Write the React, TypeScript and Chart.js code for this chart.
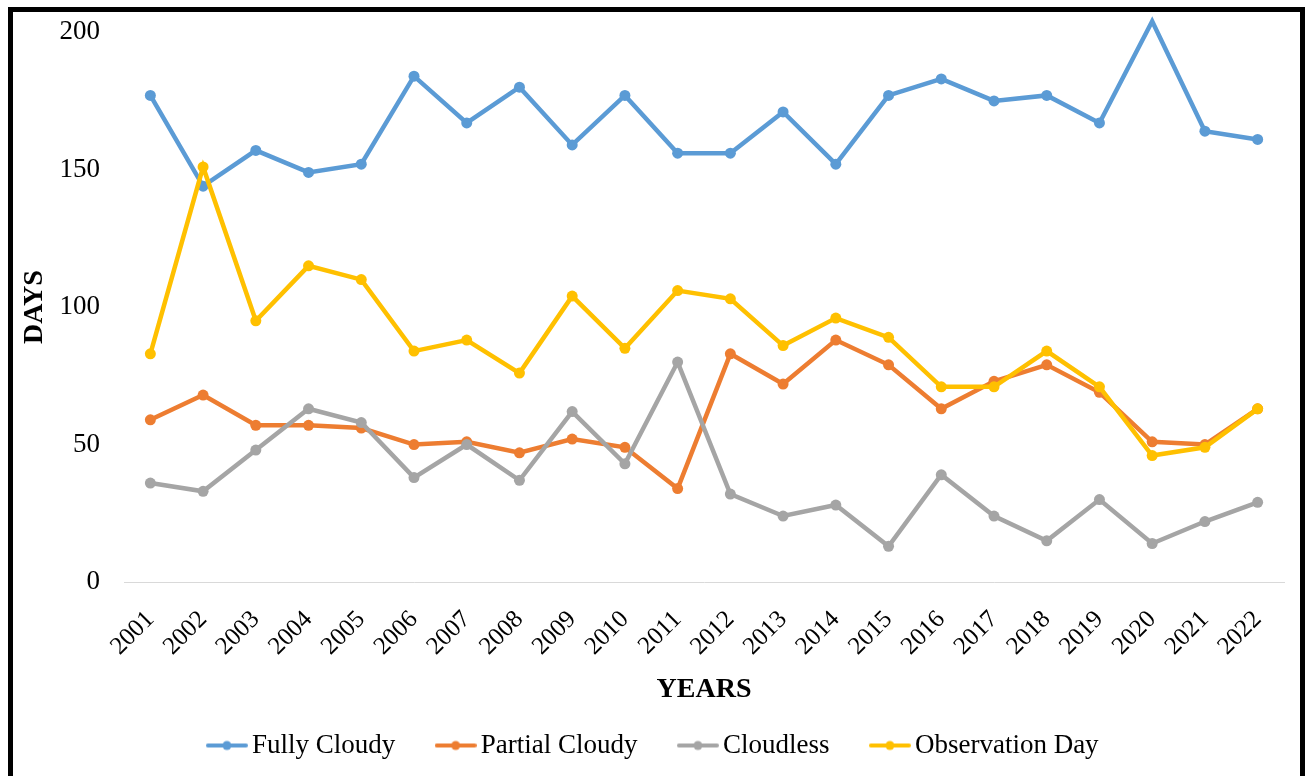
import React, { useEffect, useRef } from "react";
import { Chart, registerables } from "chart.js";

Chart.register(...registerables);

const years = ["2001","2002","2003","2004","2005","2006","2007","2008","2009","2010","2011","2012","2013","2014","2015","2016","2017","2018","2019","2020","2021","2022"];
const fullyCloudy = [177,144,157,149,152,184,167,180,159,177,156,156,171,152,177,183,175,177,167,204,164,161];
const partialCloudy = [59,68,57,57,56,50,51,47,52,49,34,83,72,88,79,63,73,79,69,51,50,63];
const cloudless = [36,33,48,63,58,38,50,37,62,43,80,32,24,28,13,39,24,15,30,14,22,29];
const observationDay = [83,151,95,115,110,84,88,76,104,85,106,103,86,96,89,71,71,84,71,46,49,63];
const yTicks = [0, 50, 100, 150, 200];

const FONT = "'Liberation Serif', 'Times New Roman', serif";

function makeMarker(color: string): HTMLCanvasElement {
  const c = document.createElement("canvas");
  c.width = 42;
  c.height = 12;
  const ctx = c.getContext("2d")!;
  ctx.strokeStyle = color;
  ctx.lineWidth = 4;
  ctx.lineCap = "round";
  ctx.beginPath();
  ctx.moveTo(2, 6);
  ctx.lineTo(40, 6);
  ctx.stroke();
  ctx.fillStyle = color;
  ctx.beginPath();
  ctx.arc(21, 6, 4.5, 0, Math.PI * 2);
  ctx.fill();
  return c;
}

export default function App() {
  const ref = useRef<HTMLCanvasElement>(null);
  useEffect(() => {
    if (!ref.current) return;
    const series = [
      { label: "Fully Cloudy", data: fullyCloudy, color: "#5B9BD5", order: 4 },
      { label: "Partial Cloudy", data: partialCloudy, color: "#ED7D31", order: 3 },
      { label: "Cloudless", data: cloudless, color: "#A5A5A5", order: 2 },
      { label: "Observation Day", data: observationDay, color: "#FFC000", order: 1 },
    ];
    const chart = new Chart(ref.current, {
      type: "line",
      data: {
        labels: years,
        datasets: series.map((s) => ({
          label: s.label,
          data: s.data,
          borderColor: s.color,
          backgroundColor: s.color,
          pointBackgroundColor: s.color,
          pointBorderColor: s.color,
          pointRadius: 5.5,
          pointBorderWidth: 0,
          borderWidth: 4.5,
          tension: 0,
          clip: false,
          order: s.order,
          pointStyle: "circle",
          marker: makeMarker(s.color),
        })) as any,
      },
      options: {
        responsive: false,
        animation: false,
        layout: { padding: { top: 28, right: 22, bottom: 7, left: 30 } },
        plugins: {
          tooltip: { enabled: false },
          legend: {
            position: "bottom",
            labels: {
              usePointStyle: true,
              pointStyleWidth: 23,
              padding: 49,
              color: "#000",
              font: { family: FONT, size: 27 },
              sort: (a: any, b: any) => a.datasetIndex - b.datasetIndex,
              generateLabels: (ch: any) =>
                ch.data.datasets.map((ds: any, i: number) => ({
                  text: ds.label,
                  fillStyle: ds.borderColor,
                  strokeStyle: ds.borderColor,
                  lineWidth: 0,
                  pointStyle: ds.marker,
                  hidden: false,
                  datasetIndex: i,
                  fontColor: "#000",
                })),
            },
          },
        },
        scales: {
          x: {
            type: "category",
            offset: true,
            grid: { display: false },
            border: { display: true, color: "#d9d9d9", width: 1 },
            ticks: {
              minRotation: 45,
              maxRotation: 45,
              autoSkip: false,
              color: "#000",
              padding: 15,
              font: { family: FONT, size: 25 },
            },
            title: {
              display: true,
              text: "YEARS",
              color: "#000",
              font: { family: FONT, size: 28, weight: "bold" },
              padding: { top: 0, bottom: -24 },
            },
            afterFit: (scale: any) => {
              scale.height = 101;
            },
          },
          y: {
            min: 0,
            max: 200,
            grid: { display: false },
            border: { display: false },
            afterBuildTicks: (scale: any) => {
              scale.ticks = yTicks.map((v) => ({ value: v }));
            },
            ticks: {
              color: "#000",
              padding: 16,
              font: { family: FONT, size: 27 },
            },
            title: {
              display: true,
              text: "DAYS",
              color: "#000",
              font: { family: FONT, size: 28, weight: "bold" },
              padding: { top: -12, bottom: 0 },
            },
            afterFit: (scale: any) => {
              scale.width = 94;
            },
          },
        },
      },
    });
    return () => chart.destroy();
  }, []);

  return (
    <div style={{ position: "absolute", left: 0, top: 0, width: 1306, height: 776, overflow: "hidden", background: "#fff" }}>
      <canvas ref={ref} width={1306} height={776} style={{ position: "absolute", left: 0, top: 0 }} />
      <div
        style={{
          position: "absolute",
          left: 8,
          top: 7,
          width: 1297,
          height: 820,
          border: "5px solid #000",
          boxSizing: "border-box",
          pointerEvents: "none",
        }}
      />
    </div>
  );
}
